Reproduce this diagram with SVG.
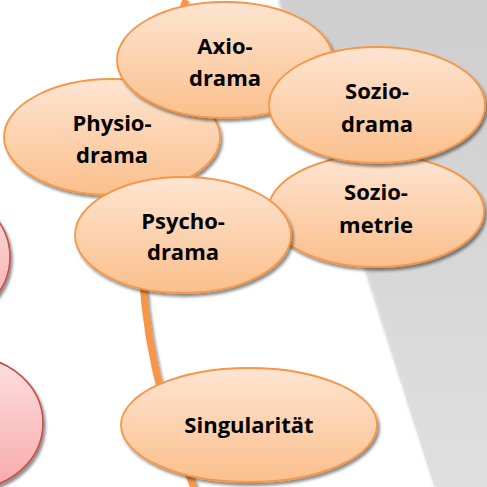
<svg xmlns="http://www.w3.org/2000/svg" width="487" height="487" viewBox="0 0 487 487">
<defs>
<linearGradient id="bg" x1="0" y1="0" x2="0" y2="1"><stop offset="0" stop-color="#cecece"/><stop offset="1" stop-color="#dfdfdf"/></linearGradient>
<linearGradient id="og" x1="0" y1="0" x2="0" y2="1"><stop offset="0" stop-color="#fee5d2"/><stop offset="1" stop-color="#fbbf8c"/></linearGradient>
<linearGradient id="pg" x1="0" y1="0" x2="0" y2="1"><stop offset="0" stop-color="#fde0e0"/><stop offset="1" stop-color="#f8a9a9"/></linearGradient>
<filter id="sh" x="-20%" y="-20%" width="140%" height="150%"><feDropShadow dx="2" dy="3" stdDeviation="1.5" flood-color="#000" flood-opacity="0.45"/></filter>
<filter id="edge" x="-10%" y="-10%" width="120%" height="120%"><feDropShadow dx="-2" dy="0" stdDeviation="1.5" flood-color="#000" flood-opacity="0.2"/></filter>
</defs>
<style>
.o{fill:url(#og);stroke:#f79646;stroke-width:1.8;filter:url(#sh)}
.p{fill:url(#pg);stroke:#c0504d;stroke-width:1.6;filter:url(#sh)}
.t{font-family:"Open Sans","Noto Sans",sans-serif;font-weight:bold;font-size:22px;fill:#000;text-anchor:middle}
</style>
<rect width="487" height="487" fill="#fff"/>
<polygon points="280,0 487,0 487,487 437,487" fill="url(#bg)" filter="url(#edge)"/>
<g id="connectors">
<path d="M186 0 A630 630 0 0 0 194 487" fill="none" stroke="#f79646" stroke-width="7" filter="url(#sh)"/>
</g>
<g id="pink1"><ellipse class="p" cx="-63" cy="257" rx="73" ry="66"/></g>
<g id="pink2"><ellipse class="p" cx="-30" cy="423" rx="73" ry="66"/></g>
<g id="soziometrie"><ellipse class="o" cx="376" cy="211" rx="108" ry="56"/><text class="t" x="376" y="200">Sozio-</text><text class="t" x="376" y="233">metrie</text></g>
<g id="physiodrama"><ellipse class="o" cx="112" cy="137" rx="108" ry="58"/><text class="t" x="112" y="131">Physio-</text><text class="t" x="112" y="163">drama</text></g>
<g id="axiodrama"><ellipse class="o" cx="225" cy="60" rx="108" ry="58"/><text class="t" x="225" y="54">Axio-</text><text class="t" x="225" y="86">drama</text></g>
<g id="soziodrama"><ellipse class="o" cx="377" cy="105" rx="108" ry="58"/><text class="t" x="377" y="99">Sozio-</text><text class="t" x="377" y="132">drama</text></g>
<g id="psychodrama"><ellipse class="o" cx="183" cy="235" rx="108" ry="58"/><text class="t" x="183" y="229">Psycho-</text><text class="t" x="183" y="260">drama</text></g>
<g id="singularitaet"><ellipse class="o" cx="249" cy="425" rx="128" ry="57"/><text class="t" x="249" y="433">Singularität</text></g>
</svg>
